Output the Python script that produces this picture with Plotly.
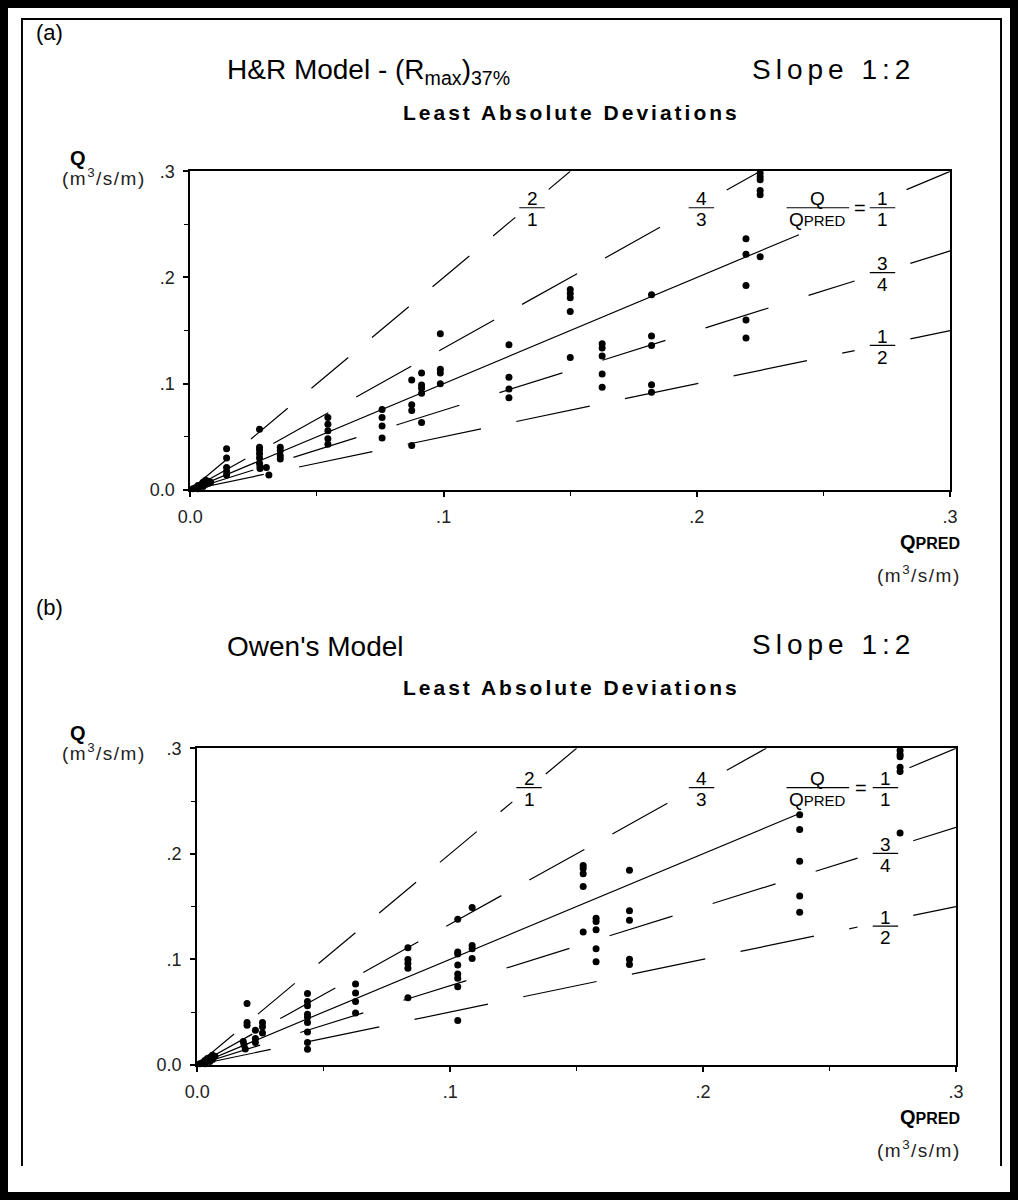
import plotly.graph_objects as go

# The page body keeps an 8px margin (plus 16px of extra height below the figure),
# so the figure is 1002x1168 and sits 8px inside the 1018x1200 reference canvas.
REF_W, REF_H = 1018, 1200
OFF = 8
W, H = 1002, 1168

# ---------------- data ----------------
ratios = [2.0, 4 / 3, 1.0, 3 / 4, 1 / 2]
ratio_num = ["2", "4", "1", "3", "1"]
ratio_den = ["1", "3", "1", "4", "2"]

major_ticks = [0, 0.1, 0.2, 0.3]
major_text = ["0.0", ".1", ".2", ".3"]

# panel (a): H&R model
qpred_a = [0.001, 0.002, 0.003, 0.004, 0.005, 0.005, 0.006, 0.007, 0.006, 0.007, 0.003, 0.008,
           0.0143, 0.0143, 0.0143, 0.0143, 0.0143,
           0.0273, 0.0273, 0.0273, 0.0273, 0.0273, 0.0273, 0.0275, 0.0275,
           0.030, 0.031,
           0.0355, 0.0355, 0.0355, 0.0355,
           0.0543, 0.0543, 0.0543, 0.0543, 0.0543,
           0.0757, 0.0757, 0.0757, 0.0757,
           0.0874, 0.0874, 0.0874, 0.0874,
           0.0913, 0.0913, 0.0913, 0.0913, 0.0913,
           0.0987, 0.0987, 0.0987, 0.0987,
           0.1258, 0.1258, 0.1258, 0.1258,
           0.150, 0.150, 0.150, 0.150, 0.150,
           0.1626, 0.1626, 0.1626, 0.1626, 0.1626,
           0.1821, 0.1821, 0.1821, 0.1821, 0.1821,
           0.2194, 0.2194, 0.2194, 0.2194, 0.2194,
           0.225, 0.225, 0.225, 0.225, 0.225, 0.225]
q_a = [0.001, 0.002, 0.001, 0.004, 0.003, 0.007, 0.005, 0.008, 0.009, 0.006, 0.004, 0.007,
       0.0386, 0.030, 0.021, 0.017, 0.014,
       0.057, 0.040, 0.0375, 0.034, 0.030, 0.025, 0.022, 0.020,
       0.021, 0.014,
       0.040, 0.037, 0.032, 0.029,
       0.068, 0.0617, 0.0556, 0.048, 0.043,
       0.0756, 0.068, 0.060, 0.0488,
       0.1034, 0.080, 0.0747, 0.0417,
       0.110, 0.0988, 0.0957, 0.091, 0.0633,
       0.147, 0.1136, 0.110, 0.100,
       0.1367, 0.106, 0.095, 0.0866,
       0.1887, 0.185, 0.181, 0.168, 0.1247,
       0.1376, 0.1336, 0.126, 0.109, 0.0965,
       0.1837, 0.1448, 0.136, 0.099, 0.0919,
       0.2366, 0.222, 0.1924, 0.160, 0.143,
       0.2985, 0.295, 0.292, 0.282, 0.278, 0.2196]

# panel (b): Owen's model
qpred_b = [0.001, 0.002, 0.003, 0.004, 0.005, 0.005, 0.006, 0.006, 0.003, 0.004, 0.007,
           0.0197, 0.0197, 0.0197,
           0.0182, 0.0185, 0.019,
           0.023, 0.023, 0.023,
           0.0258, 0.0258, 0.0258,
           0.0436, 0.0436, 0.0436, 0.0436, 0.0436, 0.0436, 0.0436, 0.0436, 0.0436,
           0.0626, 0.0626, 0.0626, 0.0626,
           0.0833, 0.0833, 0.0833, 0.0833, 0.0833,
           0.103, 0.103, 0.103, 0.103, 0.103, 0.103, 0.103, 0.103,
           0.1087, 0.1087, 0.1087, 0.1087,
           0.1526, 0.1526, 0.1526, 0.1526, 0.1526,
           0.1577, 0.1577, 0.1577, 0.1577, 0.1577,
           0.1709, 0.1709, 0.1709, 0.1709, 0.1709,
           0.2382, 0.2382, 0.2382, 0.2382, 0.2382,
           0.2779, 0.2779, 0.2779, 0.2779, 0.2779, 0.2779]
q_b = [0.001, 0.002, 0.001, 0.004, 0.003, 0.007, 0.005, 0.009, 0.004, 0.006, 0.008,
       0.058, 0.040, 0.0375,
       0.022, 0.019, 0.015,
       0.0326, 0.0248, 0.021,
       0.040, 0.036, 0.030,
       0.0676, 0.060, 0.056, 0.048, 0.045, 0.040, 0.031, 0.021, 0.0146,
       0.0766, 0.068, 0.060, 0.049,
       0.111, 0.0998, 0.096, 0.0915, 0.0636,
       0.138, 0.107, 0.105, 0.0946, 0.086, 0.082, 0.074, 0.042,
       0.149, 0.113, 0.110, 0.1008,
       0.189, 0.186, 0.181, 0.169, 0.1258,
       0.139, 0.1357, 0.128, 0.110, 0.0977,
       0.1844, 0.146, 0.137, 0.100, 0.095,
       0.237, 0.223, 0.193, 0.160, 0.1446,
       0.298, 0.294, 0.292, 0.282, 0.278, 0.2198]

# ---------------- styling / layout constants ----------------
FONT = "Liberation Sans, Arial, sans-serif"
TICKFONT = dict(family="Liberation Sans, Arial, sans-serif", size=18, color="#222")
ratio_dash = ["48px,31px", "63px,32px", "solid", "66px,42px", "75px,36px"]

panels = [
    dict(box=(181, 957, 164, 488), qp=qpred_a, q=q_a,
         title='H&R Model - (R<sub>max</sub>)<sub>37%</sub>', dy=0,
         lab_x=[0.1349, 0.2018, 0.2733, 0.2733, 0.2733], qlab_x=0.2478, eq_x=0.2644),
    dict(box=(188, 963, 751, 1073), qp=qpred_b, q=q_b,
         title="Owen's Model", dy=585,
         lab_x=[0.1312, 0.1994, 0.2721, 0.2721, 0.2721], qlab_x=0.2454, eq_x=0.2625),
]
bar_y = [[0.2657, 0.2657, 0.2657, 0.2046, 0.1361],
         [0.2627, 0.2627, 0.2627, 0.2003, 0.1314]]
gap_half = [0.0066, 0.01, None, 0.011, 0.011]

fig = go.Figure()
annotations = []
shapes = []


def px(xp):
    return (xp - OFF) / W


def py(yp):
    return 1 - (yp - OFF) / H


def txt(x, y, text, size, color="black", xanchor="center", yanchor="middle", xref="paper", yref="paper"):
    annotations.append(dict(x=x, y=y, xref=xref, yref=yref, text=text, showarrow=False,
                            font=dict(family=FONT, size=size, color=color),
                            xanchor=xanchor, yanchor=yanchor))


for i, p in enumerate(panels):
    l, r, t, b = p["box"]
    xa = "x" if i == 0 else "x2"
    ya = "y" if i == 0 else "y2"
    axis_common = dict(range=[0, 0.3], tickvals=major_ticks, ticktext=major_text,
                       ticks="outside", ticklen=5, tickwidth=1.5, tickcolor="black",
                       minor=dict(dtick=0.05, tick0=0, ticks="outside", ticklen=4,
                                  tickwidth=1.2, tickcolor="black", showgrid=False),
                       showline=True, linecolor="black", linewidth=2, mirror=True,
                       showgrid=False, zeroline=False, tickfont=TICKFONT,
                       fixedrange=True)
    fig.update_layout(**{
        ("xaxis" if i == 0 else "xaxis2"): dict(domain=[px(l), px(r)], anchor=ya,
                                               ticklabelstandoff=5, **axis_common),
        ("yaxis" if i == 0 else "yaxis2"): dict(domain=[py(b), py(t)], anchor=xa,
                                               ticklabelstandoff=5, **axis_common),
    })

    # ratio lines Q = r * Q_PRED, broken where the labels sit
    for k, rr in enumerate(ratios):
        x_end = min(0.3, 0.3 / rr)
        lx = p["lab_x"][k]
        if k == 2:
            g0, g1 = p["qlab_x"] - 0.0075, lx + 0.0095
        else:
            g0, g1 = lx - gap_half[k], lx + gap_half[k]
        if g1 >= x_end:
            xs, ys = [0, g0], [0, rr * g0]
        else:
            xs, ys = [0, g0, None, g1, x_end], [0, rr * g0, None, rr * g1, rr * x_end]
        fig.add_trace(go.Scatter(x=xs, y=ys, xaxis=xa, yaxis=ya, mode="lines",
                                 line=dict(color="black", width=1.2, dash=ratio_dash[k]),
                                 connectgaps=False, hoverinfo="skip", showlegend=False))

    # data points
    fig.add_trace(go.Scatter(x=p["qp"], y=p["q"], xaxis=xa, yaxis=ya, mode="markers",
                             marker=dict(color="black", size=7), cliponaxis=False,
                             showlegend=False))

    # fraction labels
    sx = 0.3 / (r - l)
    sy = 0.3 / (b - t)
    for k in range(5):
        lx = p["lab_x"][k]
        by = bar_y[i][k]
        txt(lx, by + 9 * sy, ratio_num[k], 19, xref=xa, yref=ya)
        txt(lx, by - 12 * sy, ratio_den[k], 19, xref=xa, yref=ya)
        shapes.append(dict(type="line", xref=xa, yref=ya, x0=lx - 13 * sx, x1=lx + 13 * sx,
                           y0=by, y1=by, line=dict(color="black", width=1.2)))
    qx = p["qlab_x"]
    by = bar_y[i][2]
    txt(qx, by + 9 * sy, "Q", 19, xref=xa, yref=ya)
    txt(qx, by - 12 * sy, "Q<span style='font-size:15px'>PRED</span>", 19, xref=xa, yref=ya)
    shapes.append(dict(type="line", xref=xa, yref=ya, x0=qx - 32 * sx, x1=qx + 32 * sx,
                       y0=by, y1=by, line=dict(color="black", width=1.2)))
    txt(p["eq_x"], by, "=", 20, xref=xa, yref=ya)

    dy = p["dy"]
    txt(px(21), py(23 + dy), "(a)" if i == 0 else "(b)", 22, xanchor="left")
    txt(px(216), py(62 + dy), p["title"], 28, xanchor="left")
    txt(px(753), py(60 + dy), "<span style='letter-spacing:5px'>Slope 1:2</span>", 28, xanchor="left")
    txt(px(570), py(104 + dy),
        "<span style='letter-spacing:3px'><b>Least Absolute Deviations</b></span>", 21)
    txt(px(66), py(150 + dy), "<b>Q</b>", 20)
    txt(px(93), py(170 + dy), "<span style='letter-spacing:1.5px'>(m<sup>3</sup>/s/m)</span>", 19, color="#222")
    txt(px(936), py(541 + dy), "<b>Q<span style='font-size:16px'>PRED</span></b>", 20)
    txt(px(925), py(574 + dy), "<span style='letter-spacing:1.5px'>(m<sup>3</sup>/s/m)</span>", 19, color="#222")

# inner 2px of the black frame (the page background supplies the outer 8px)
for (x0, x1, y0, y1) in [(8, 10, 8, 1176), (1008, 1010, 8, 1176), (8, 1010, 8, 10)]:
    shapes.append(dict(type="rect", xref="paper", yref="paper", x0=px(x0), x1=px(x1),
                       y0=py(y1), y1=py(y0), fillcolor="black", line=dict(width=0),
                       layer="above"))

fig.update_layout(width=W, height=H, autosize=False,
                  margin=dict(l=0, r=0, t=0, b=0),
                  paper_bgcolor="white", plot_bgcolor="white",
                  annotations=annotations, shapes=shapes, showlegend=False)

# page margin is black (frame); the body strip below the figure stays white
fig.write_html("out.html", config={"displayModeBar": False},
               post_script="document.body.style.background='white';"
                           "document.documentElement.style.background='black';")
